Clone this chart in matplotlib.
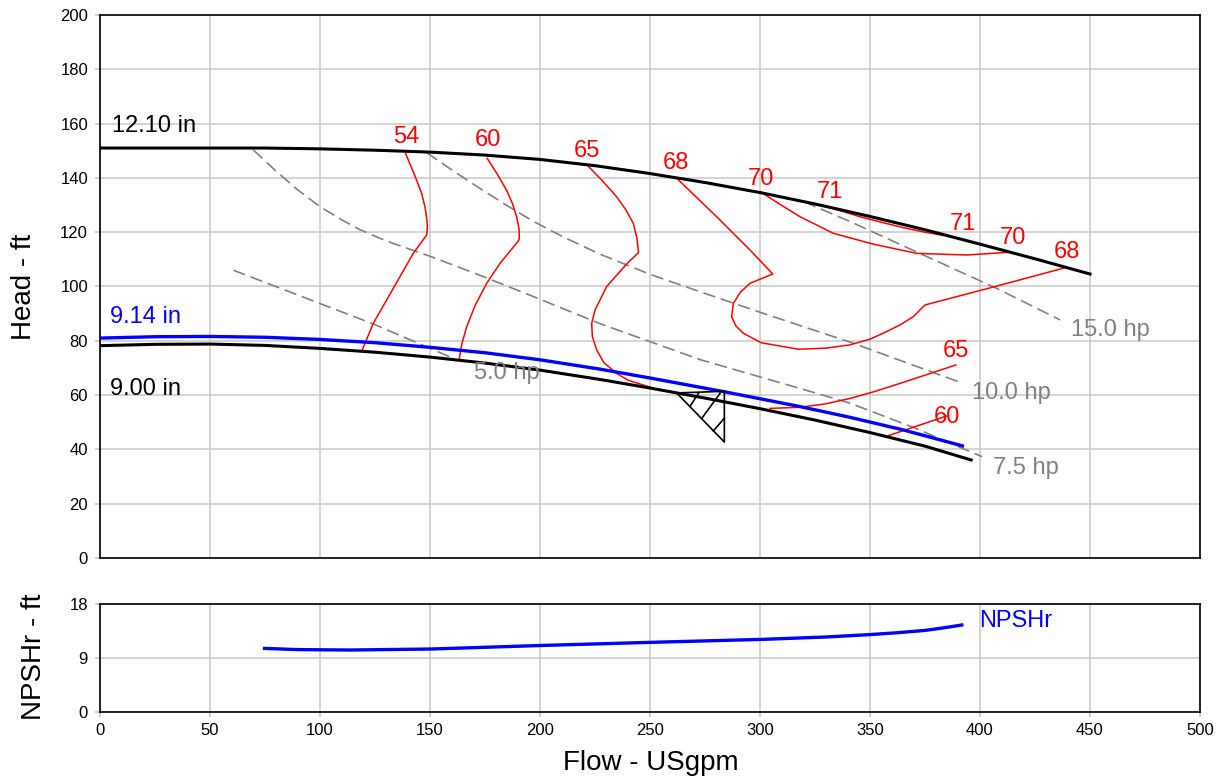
import matplotlib
matplotlib.use("Agg")
import matplotlib.pyplot as plt

plt.rcParams['font.family'] = ['Liberation Sans', 'DejaVu Sans']

# ---- head curves (flow USgpm, head ft) ----
q_1210 = [0, 50, 75, 100, 125, 150, 175, 200, 225, 250, 275, 300, 325, 350, 375, 400, 425, 450]
h_1210 = [151.0, 151.0, 151.0, 150.7, 150.2, 149.5, 148.4, 146.8, 144.5, 141.6, 138.3, 134.6, 130.4, 125.8, 120.9, 115.6, 110.2, 104.6]

q_914 = [0, 25, 50, 75, 100, 125, 150, 175, 200, 227, 250, 284, 318, 341, 365, 392]
h_914 = [81.0, 81.5, 81.6, 81.3, 80.5, 79.3, 77.6, 75.6, 73.0, 69.6, 66.3, 61.2, 55.8, 51.8, 47.2, 41.3]

q_900 = [0, 25, 50, 75, 100, 125, 150, 175, 200, 227, 250, 275, 300, 325, 350, 375, 396]
h_900 = [78.2, 78.7, 78.8, 78.3, 77.2, 75.8, 74.0, 71.8, 69.2, 65.8, 62.6, 58.9, 55.0, 50.8, 46.2, 41.2, 36.1]

# ---- power lines ----
q_hp15 = [320, 341, 371, 407.6, 436.4]
h_hp15 = [131.2, 123.9, 112.8, 99.3, 87.7]

q_hp10 = [148.5, 160, 172, 185, 197, 210, 227, 250, 273, 300, 341, 392]
h_hp10 = [149.3, 142.9, 136.5, 129.8, 124.0, 118.5, 112.0, 104.5, 98.0, 90.5, 79.5, 64.4]

q_hp75 = [69.7, 80, 90, 100, 110, 118, 130, 151.5, 175, 197, 227, 250, 273, 300, 318, 341, 370, 401]
h_hp75 = [150.3, 142.5, 135.5, 129.4, 124.5, 121.0, 116.8, 110.7, 103.4, 96.3, 86.4, 79.7, 73.0, 66.7, 62.5, 57.0, 48.0, 37.3]

q_hp5 = [60.6, 124.2, 159]
h_hp5 = [106.0, 86.2, 74.1]

# ---- efficiency contours ----
q_e54 = [138.9, 141.5, 143.9, 146.2, 147.7, 148.6, 148.8, 148.5, 142.4, 124.2, 119.2]
h_e54 = [149.0, 144.0, 139.2, 134.3, 129.4, 124.5, 122.0, 119.0, 112.2, 86.4, 76.6]

q_e60 = [176.0, 180.5, 184.8, 187.5, 189.4, 190.5, 190.6, 190.2, 181.8, 175.8, 170.5, 166.7, 164.5, 163.3]
h_e60 = [147.2, 141.5, 135.5, 130.5, 125.7, 121.0, 117.7, 116.8, 108.5, 101.2, 93.0, 85.2, 79.0, 73.2]

q_e65 = [221.5, 228.5, 234.8, 239.0, 242.4, 244.0, 244.8, 239.4, 230.3, 225.0, 223.5, 223.8, 225.8, 229.0, 234.8, 240.0, 247.0, 251.5]
h_e65 = [144.7, 138.8, 133.1, 128.3, 123.3, 118.0, 112.5, 108.3, 100.0, 91.3, 86.4, 81.5, 76.6, 72.0, 68.0, 65.5, 63.7, 62.5]

q_e68 = [262.1, 280.3, 295.5, 305.8, 295.5, 291.0, 287.9, 287.1, 289.0, 292.4, 300.5, 317.4, 330.0, 340.9, 350.0, 357.6, 364.0, 369.7, 375.0, 406.0, 438.6]
h_e68 = [139.9, 125.7, 113.4, 104.6, 101.2, 97.8, 93.8, 88.9, 85.5, 82.8, 79.3, 76.9, 77.3, 78.5, 80.6, 83.4, 86.0, 88.9, 93.2, 99.8, 106.9]

q_e70 = [300.5, 310.0, 318.2, 333.3, 351.5, 371.2, 394.0, 412.9]
h_e70 = [134.7, 129.8, 125.7, 119.6, 115.6, 112.2, 111.6, 112.6]

q_e71 = [331.8, 345, 355, 365, 375, 388]
h_e71 = [129.1, 125.8, 123.7, 121.7, 120.0, 118.2]

q_e65r = [304.5, 318, 330, 341, 352, 363.6, 376, 389]
h_e65r = [55.1, 55.5, 56.8, 58.8, 61.3, 64.3, 67.6, 71.1]

q_e60r = [358.5, 384.8]
h_e60r = [45.1, 52.3]

eff_labels = ['54', '60', '65', '68', '70', '71', '71', '70', '68', '65', '60']
eff_label_q = [139.2, 176.3, 221.2, 261.8, 300.5, 331.6, 392.2, 415.0, 439.7, 389.1, 384.8]
eff_label_h = [152.7, 151.7, 147.6, 143.2, 137.4, 132.5, 120.8, 115.7, 110.4, 74.0, 49.7]

hp_labels = ['15.0 hp', '10.0 hp', '7.5 hp', '5.0 hp']
hp_label_q = [441.2, 396.2, 406.0, 170.0]
hp_label_h = [81.8, 58.4, 30.9, 65.8]

# best efficiency point marker
bep_q = [262.1, 283.8, 283.8, 262.1]
bep_h = [60.8, 61.4, 42.7, 60.8]
bep_hatch = [((268.2, 55.9), (272.0, 60.6)),
             ((273.5, 51.4), (281.8, 60.6)),
             ((278.8, 46.8), (283.8, 51.5))]

# ---- NPSHr ----
q_npsh = [74.8, 90, 113.6, 150.7, 201.8, 249.5, 300.6, 330, 350, 362, 375, 383, 391.7]
h_npsh = [10.6, 10.4, 10.33, 10.5, 11.1, 11.6, 12.1, 12.5, 12.9, 13.2, 13.6, 14.0, 14.5]

grid_c = '#c8c8c8'
tick_c = '#c0c0c0'
hp_c = '#808080'

fig = plt.figure(figsize=(12.19, 7.76), dpi=100)
ax = fig.add_axes([0.08203, 0.28093, 0.90238, 0.69974])
ax2 = fig.add_axes([0.08203, 0.08247, 0.90238, 0.13918])

for a in (ax, ax2):
    a.set_xlim(0, 500)
    a.set_xticks(range(0, 501, 50))
    a.grid(True, color=grid_c, lw=1.1)
    a.set_axisbelow(True)
    for s in a.spines.values():
        s.set_color('black')
        s.set_linewidth(1.2)
    a.tick_params(axis='both', direction='out', length=3.6, width=1.1,
                  color=tick_c, labelsize=12, pad=5)

ax.set_ylim(0, 200)
ax.set_yticks(range(0, 201, 20))
ax.tick_params(axis='x', labelbottom=False, length=0)

ax2.set_ylim(0, 18)
ax2.set_yticks([0, 9, 18])
ax2.tick_params(axis='x', pad=4)

# power lines
for qq, hh in [(q_hp15, h_hp15), (q_hp10, h_hp10), (q_hp75, h_hp75), (q_hp5, h_hp5)]:
    ax.plot(qq, hh, color=hp_c, lw=1.2, dashes=(7.5, 3.5), zorder=2)

# efficiency contours
for qq, hh in [(q_e54, h_e54), (q_e60, h_e60), (q_e65, h_e65), (q_e68, h_e68),
               (q_e70, h_e70), (q_e71, h_e71), (q_e65r, h_e65r), (q_e60r, h_e60r)]:
    ax.plot(qq, hh, color='red', lw=1.1, zorder=3)

# impeller curves
ax.plot(q_1210, h_1210, color='black', lw=2.2, zorder=4)
ax.plot(q_900, h_900, color='black', lw=2.2, zorder=4)
ax.plot(q_914, h_914, color='blue', lw=2.4, zorder=5)

# BEP triangle
ax.plot(bep_q, bep_h, color='black', lw=1.2, zorder=6)
for (p0, p1) in bep_hatch:
    ax.plot([p0[0], p1[0]], [p0[1], p1[1]], color='black', lw=1.2, zorder=6)

for t, x, y in zip(eff_labels, eff_label_q, eff_label_h):
    ax.text(x, y, t, color='red', fontsize=17, ha='center', va='baseline', zorder=7)

for t, x, y in zip(hp_labels, hp_label_q, hp_label_h):
    ax.text(x, y, t, color=hp_c, fontsize=17, ha='left', va='baseline', zorder=7)

ax.text(5.3, 156.8, '12.10 in', color='black', fontsize=17, va='baseline', zorder=7)
ax.text(4.5, 86.4, '9.14 in', color='blue', fontsize=17, va='baseline', zorder=7)
ax.text(4.5, 60.0, '9.00 in', color='black', fontsize=17, va='baseline', zorder=7)

ax2.plot(q_npsh, h_npsh, color='blue', lw=2.4, zorder=4)
ax2.text(399.5, 14.2, 'NPSHr', color='blue', fontsize=17, va='baseline')

fig.text(24 / 1219, 1 - 286.5 / 776, 'Head - ft', rotation=90, fontsize=20,
         ha='center', va='center')
fig.text(34 / 1219, 1 - 657 / 776, 'NPSHr - ft', rotation=90, fontsize=20,
         ha='center', va='center')
fig.text(651 / 1219, 1 - 763 / 776, 'Flow - USgpm', fontsize=20,
         ha='center', va='center')

fig.savefig('out.png', dpi=100)
